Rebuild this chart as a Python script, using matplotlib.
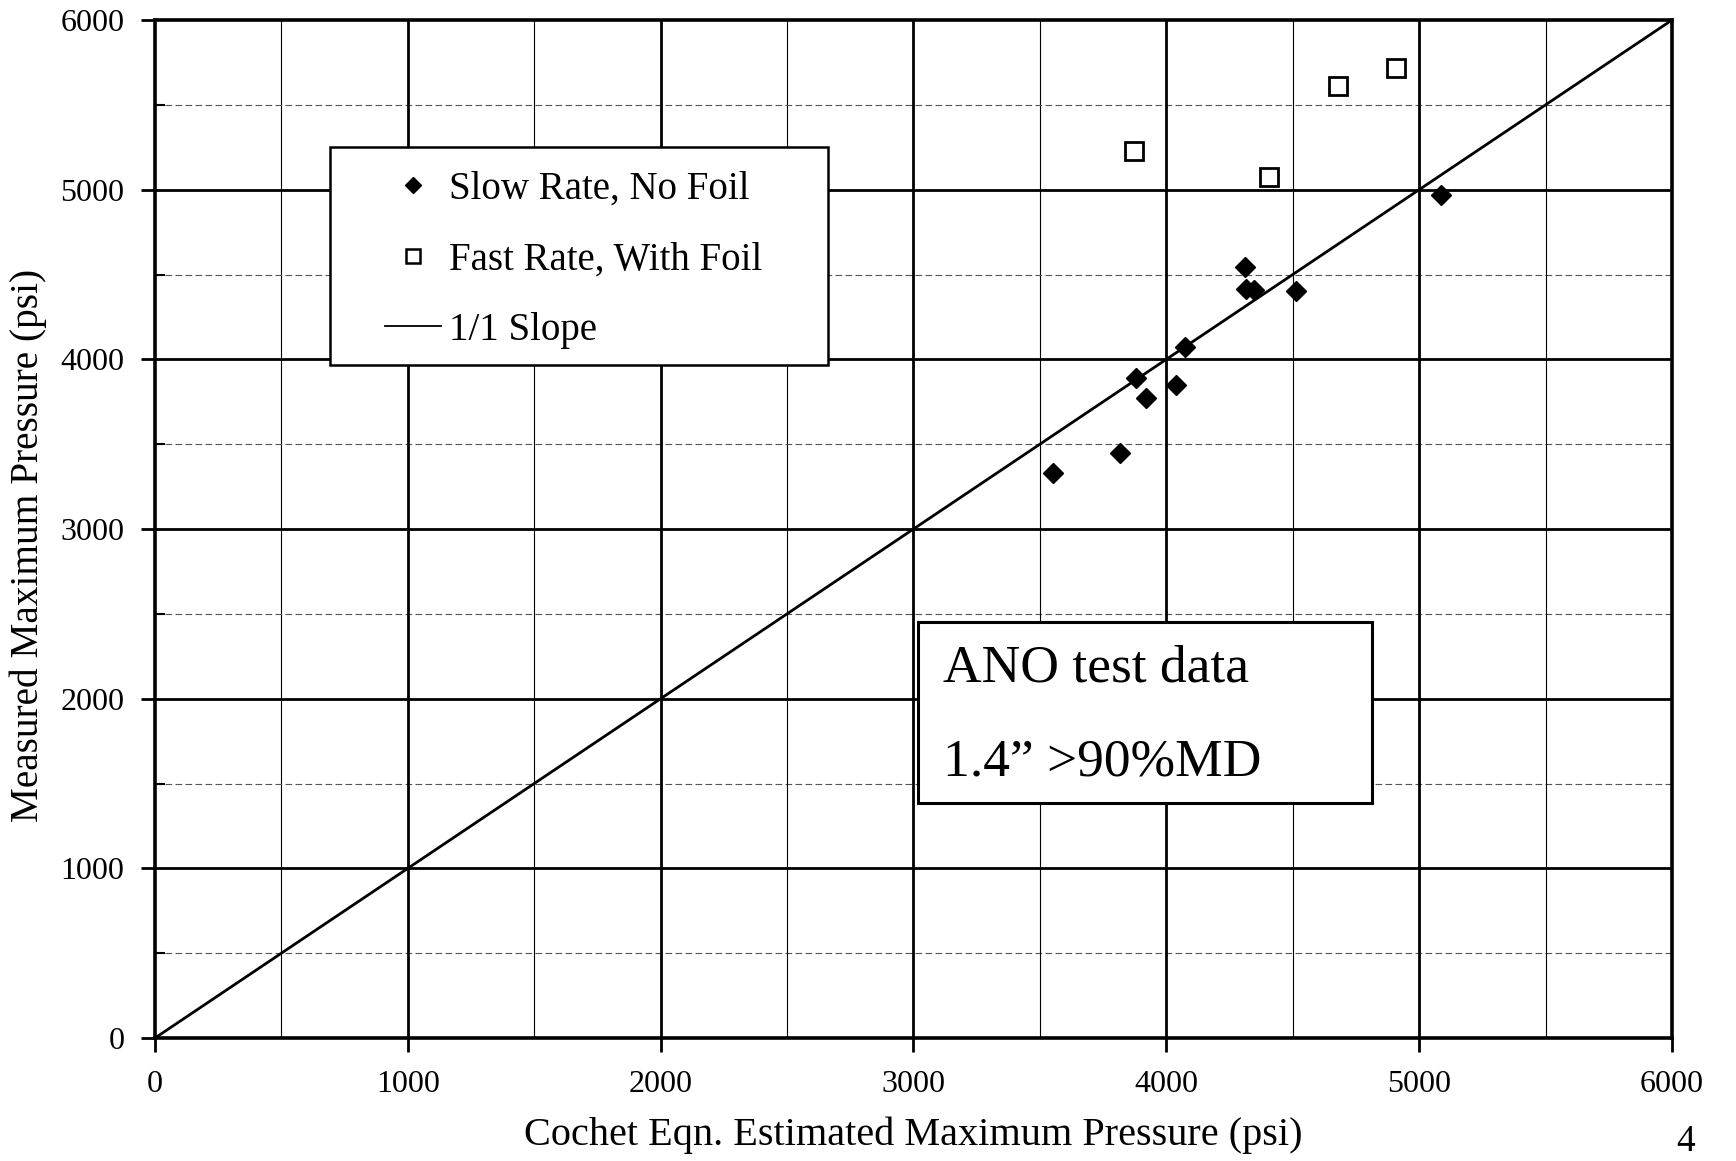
import matplotlib
matplotlib.use("Agg")
import matplotlib.pyplot as plt
from matplotlib.patches import Rectangle
from matplotlib.lines import Line2D

# ---- data ----
slow_x = [3550, 3815, 3882, 3918, 4040, 4075, 4312, 4315, 4348, 4513, 5085]
slow_y = [3332, 3448, 3888, 3770, 3846, 4073, 4544, 4412, 4407, 4405, 4970]
fast_x = [3872, 4405, 4678, 4908]
fast_y = [5228, 5075, 5612, 5715]
slope_x = [0, 6000]
slope_y = [0, 6000]
major_ticks = [0, 1000, 2000, 3000, 4000, 5000, 6000]
minor_ticks = [500, 1500, 2500, 3500, 4500, 5500]
legend_labels = ["Slow Rate, No Foil", "Fast Rate, With Foil", "1/1 Slope"]
x_label = "Cochet Eqn. Estimated Maximum Pressure (psi)"
y_label = "Measured Maximum Pressure (psi)"
note_lines = ["ANO test data", "1.4\u201d >90%MD"]
page_no = "4"

SERIF = ["Liberation Serif", "DejaVu Serif"]
plt.rcParams["font.family"] = SERIF

W, H = 1736, 1161
fig = plt.figure(figsize=(W / 100, H / 100), dpi=100)
L, R, T, B = 155, 1672, 20, 1038
ax = fig.add_axes([L / W, 1 - B / H, (R - L) / W, (B - T) / H])

ax.set_xlim(0, 6000)
ax.set_ylim(0, 6000)

# grid
for v in minor_ticks:
    ax.axvline(v, color="black", lw=0.8, zorder=1)
    ax.axhline(v, color="#555555", lw=0.8, ls=(0, (6, 3)), zorder=1)
for v in major_ticks[1:-1]:
    ax.axvline(v, color="black", lw=2.0, zorder=1)
    ax.axhline(v, color="black", lw=2.0, zorder=1)

ax.plot(slope_x, slope_y, color="black", lw=2.0, zorder=2)
ax.plot(slow_x, slow_y, ls="none", marker="D", ms=10.5, color="black", zorder=3)
ax.plot(fast_x, fast_y, ls="none", marker="s", ms=13, mfc="white", mec="black",
        mew=2.0, zorder=3)

for s in ax.spines.values():
    s.set_linewidth(2.6)

ax.set_xticks(major_ticks)
ax.set_yticks(major_ticks)
ax.set_yticks(minor_ticks, minor=True)
ax.tick_params(axis="both", which="major", direction="out", length=10, width=2,
               labelsize=23, colors="black")
ax.tick_params(axis="x", which="major", pad=13)
ax.tick_params(axis="y", which="major", pad=12)
ax.tick_params(axis="y", which="minor", direction="in", length=7, width=1.5)
ax.set_xticklabels([str(t) for t in major_ticks])
ax.set_yticklabels([str(t) for t in major_ticks])

fig.text((L + R) / 2 / W, 1 - 1135 / H, x_label, ha="center", va="center", fontsize=29)
fig.text(28 / W, 1 - 545 / H, y_label, ha="center", va="center", rotation=90, fontsize=28.3)
fig.text(1686 / W, 1 - 1151 / H, page_no, ha="center", va="baseline", fontsize=27)

# legend frame and legend
def ax_x(px):
    return (px - L) / (R - L)

def ax_y(py):
    return (B - py) / (B - T)

ax.add_patch(Rectangle((ax_x(330), ax_y(365)), ax_x(828) - ax_x(330), ax_y(147) - ax_y(365),
                       transform=ax.transAxes, facecolor="white", edgecolor="black",
                       lw=1.8, zorder=4))
handles = [
    Line2D([], [], ls="none", marker="D", ms=8, color="black"),
    Line2D([], [], ls="none", marker="s", ms=10, mfc="white", mec="black", mew=1.8),
    Line2D([], [], color="black", lw=1.3),
]
leg = ax.legend(handles, legend_labels, loc="upper left",
                bbox_to_anchor=(ax_x(385), ax_y(171)), frameon=False,
                borderpad=0, borderaxespad=0, fontsize=28, handlelength=1.45,
                handletextpad=0.2, labelspacing=0.86)
leg.set_zorder(5)

# note box
ax.add_patch(Rectangle((ax_x(918), ax_y(803)), ax_x(1372) - ax_x(918), ax_y(622) - ax_y(803),
                       transform=ax.transAxes, facecolor="white", edgecolor="black",
                       lw=2.2, zorder=4))
ax.text(ax_x(943), ax_y(681), note_lines[0], transform=ax.transAxes, fontsize=38.5,
        ha="left", va="baseline", zorder=5)
ax.text(ax_x(943), ax_y(776), note_lines[1], transform=ax.transAxes, fontsize=38.5,
        ha="left", va="baseline", zorder=5)

fig.savefig("out.png", dpi=100, facecolor="white")
